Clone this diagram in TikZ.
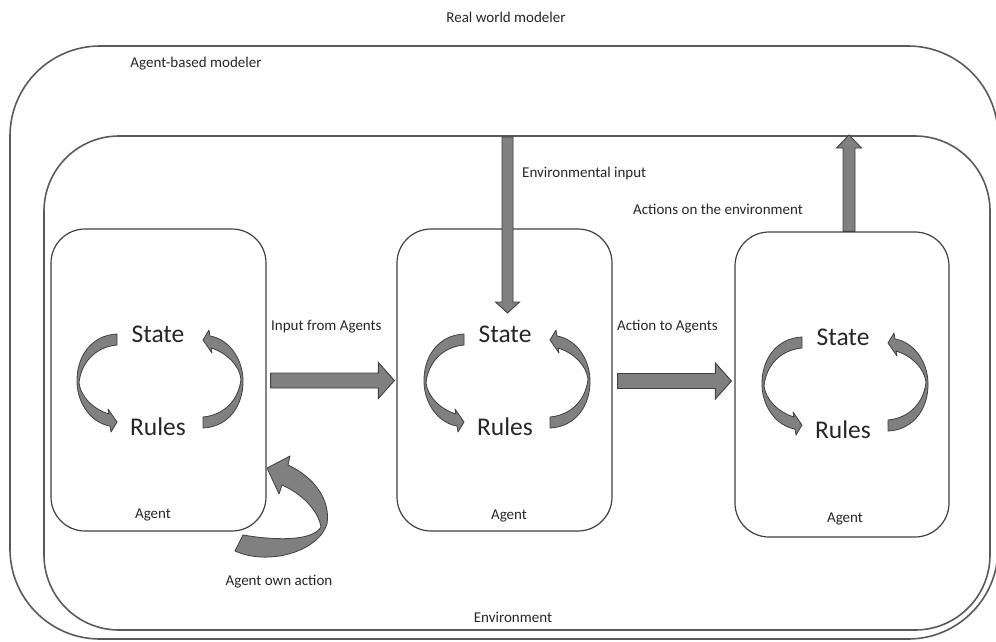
\documentclass[tikz,border=0pt]{standalone}
\usepackage{fontspec}
\setmainfont{Carlito}
\usetikzlibrary{calc}
\definecolor{linec}{HTML}{404040}
\definecolor{framec}{HTML}{5A5A5A}
\definecolor{afill}{HTML}{808080}
\definecolor{txt}{HTML}{262626}
\newcommand\cycpath{(-43,-47) .. controls (-68,-46) and (-84,-25) .. (-83,2)
   .. controls (-82,24) and (-68,42) .. (-50,45)
   -- (-49,51) -- (-43,41) -- (-52,28) -- (-51,33)
   .. controls (-67,28) and (-79,16) .. (-81,2)
   .. controls (-79,-18) and (-65,-34) .. (-43,-36) -- cycle}
\newcommand\blockarrow[5]{%
  \coordinate (ba-h) at ($(#2)!#4!(#1)$);
  \path[blk] ($(#1)!#3!90:(#2)$) -- ($(ba-h)!#3!90:(#2)$) -- ($(ba-h)!#5!90:(#2)$)
    -- (#2) -- ($(ba-h)!#5!-90:(#2)$) -- ($(ba-h)!#3!-90:(#2)$)
    -- ($(#1)!#3!-90:(#2)$) -- cycle;}
\begin{document}
\begin{tikzpicture}[x=1pt,y=-1pt,
  lbl/.style={font=\fontsize{15}{18}\selectfont, text=txt, inner sep=0pt},
  big/.style={font=\fontsize{25.5}{30}\selectfont, text=txt, inner sep=0pt},
  agentbox/.style={draw=linec, line width=1.2pt, rounded corners=34pt, inner sep=0pt},
  frame/.style={draw=framec, line width=1.6pt},
  blk/.style={fill=afill, draw=linec, line width=0.9pt, line join=miter},
  carrow/.style={fill=afill, draw=linec, line width=0.8pt, line join=round},
  cyc/.pic={\path[carrow] \cycpath; \path[carrow, rotate=180] \cycpath;}
]
\useasboundingbox (0,0) rectangle (996,641);
% frames
\draw[frame, rounded corners=90pt] (10,46) rectangle (998,639);
\draw[frame, rounded corners=75pt] (44,136) rectangle (990,630);
% agent boxes
\node[agentbox, minimum width=215pt, minimum height=302pt] (a1) at (158.5,380) {};
\node[agentbox, minimum width=215pt, minimum height=302pt] (a2) at (504.5,380) {};
\node[agentbox, minimum width=214pt, minimum height=305pt] (a3) at (842,384.5) {};
% texts
\node[lbl] (rwm) at (506,17) {Real world modeler};
\node[lbl] (abm) at (196,64) {Agent-based modeler};
\node[lbl] (envl) at (513,617) {Environment};
\node[lbl, anchor=west] (ei) at (522,173) {Environmental input};
\node[lbl, anchor=west] (ae) at (633,209) {Actions on the environment};
\node[lbl, anchor=west] (ifa) at (271,327) {Input from Agents};
\node[lbl, anchor=west] (ata) at (617,327) {Action to Agents};
\node[lbl] (aoa) at (279,582) {Agent own action};
\node[lbl] (g1) at (153,515) {Agent};
\node[lbl] (g2) at (509,516) {Agent};
\node[lbl] (g3) at (845,519) {Agent};
% cycle centres
\coordinate (c1) at ($(a1.center)+(1.5,1)$);
\coordinate (c2) at ($(a2.center)+(2.5,1)$);
\coordinate (c3) at ($(a3.center)+(3,-0.5)$);
\foreach \i in {1,2,3}{
  \pic at (c\i) {cyc};
  \node[big, anchor=base] (s\i) at ($(c\i)+(-2,-39)$) {State};
  \node[big, anchor=base] (r\i) at ($(c\i)+(-2,54)$) {Rules};
}
% straight block arrows
\coordinate (i1s) at ($(a1.east)+(4,0.5)$);
\coordinate (i1t) at ($(a2.west)+(-2,0.5)$);
\blockarrow{i1s}{i1t}{7.5pt}{16pt}{18pt}
\coordinate (i2s) at ($(a2.east)+(5,1)$);
\coordinate (i2t) at ($(a3.west)+(-3,-3.5)$);
\blockarrow{i2s}{i2t}{7.5pt}{16pt}{18pt}
\coordinate (envin) at (507.5,137);
\coordinate (eit) at (507.5,313);
\blockarrow{envin}{eit}{5.5pt}{11pt}{12pt}
\coordinate (aes) at ($(a3.north)+(7,0)$);
\coordinate (envout) at (849,135);
\blockarrow{aes}{envout}{6pt}{13pt}{12.5pt}
% agent own action arrow
\path[carrow] (235,551) .. controls (268,566) and (318,552) .. (327,524)
  .. controls (331,498) and (312,476) .. (288,465) -- (290,456) -- (267,468)
  -- (279,494) -- (282,485) .. controls (302,494) and (318,510) .. (321,527)
  .. controls (312,542) and (272,540) .. (243,535) -- cycle;
\end{tikzpicture}
\end{document}
